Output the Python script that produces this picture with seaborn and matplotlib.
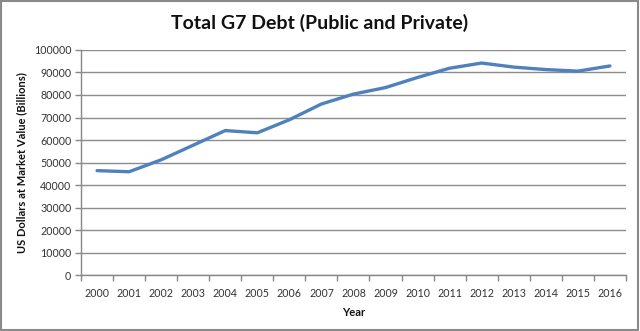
import matplotlib
matplotlib.use("Agg")
import matplotlib.pyplot as plt
from matplotlib.patches import Rectangle
from matplotlib.ticker import FixedLocator
import pandas as pd
import seaborn as sns

years = ["2000", "2001", "2002", "2003", "2004", "2005", "2006", "2007", "2008",
         "2009", "2010", "2011", "2012", "2013", "2014", "2015", "2016"]
debt = [46400, 45900, 51200, 57700, 64200, 63200, 69000, 76000, 80400,
        83300, 87800, 91900, 94200, 92400, 91300, 90600, 92900]
y_ticks = [0, 10000, 20000, 30000, 40000, 50000, 60000, 70000, 80000, 90000, 100000]

df = pd.DataFrame({"Year": years, "Debt": debt})

sns.set_theme(style="white")
plt.rcParams["font.family"] = ["Lato", "DejaVu Sans"]

fig = plt.figure(figsize=(6.4, 3.31), dpi=100)
ax = fig.add_axes([0.1266, 0.169, 0.8514, 0.680])

sns.lineplot(data=df, x="Year", y="Debt", ax=ax, color="#4F81BD", linewidth=2.4)

ax.set_xlim(-0.5, len(years) - 0.5)
ax.set_ylim(0, 100000)
ax.set_yticks(y_ticks)
ax.set_yticklabels([str(v) for v in y_ticks], fontsize=7.7, color="#333333")
ax.set_xticks(range(len(years)))
ax.set_xticklabels(years, fontsize=7.7, color="#333333")
ax.xaxis.set_minor_locator(FixedLocator([i - 0.5 for i in range(len(years) + 1)]))
ax.tick_params(axis="x", which="major", length=0, pad=9)
ax.tick_params(axis="x", which="minor", length=4, width=1, color="#888888", bottom=True)
ax.tick_params(axis="y", which="major", length=4, width=1, color="#888888", left=True, pad=3)

ax.grid(axis="y", color="#8c8c8c", linewidth=1)
ax.set_axisbelow(True)
for side in ["top", "right"]:
    ax.spines[side].set_visible(False)
for side in ["left", "bottom"]:
    ax.spines[side].set_color("#888888")
    ax.spines[side].set_linewidth(1)

ax.set_xlabel("Year", fontsize=8, fontweight="bold", color="#111111", labelpad=6)
ax.set_ylabel("US Dollars at Market Value (Billions)", fontsize=8, fontweight="bold",
              color="#111111", labelpad=5)

fig.text(0.5, 0.932, "Total G7 Debt (Public and Private)", ha="center", va="center",
         fontsize=14, fontweight="bold", color="#111111")

fig.patches.append(Rectangle((0.002, 0.003), 0.995, 0.993, transform=fig.transFigure,
                             fill=False, edgecolor="#8a8a8a", linewidth=1.5))

fig.savefig("out.png", dpi=100)
